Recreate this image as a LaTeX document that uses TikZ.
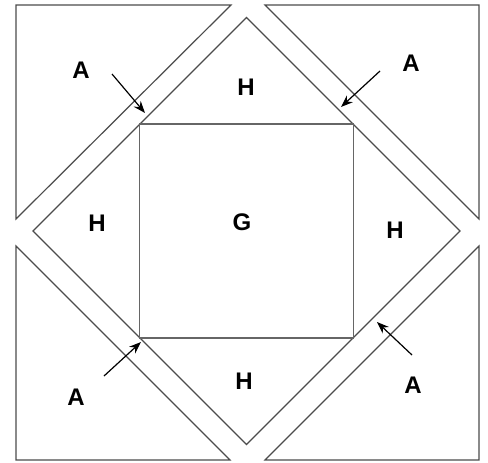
\documentclass[tikz,border=0pt]{standalone}
\usepackage{fontspec}
\setsansfont{Liberation Sans}
\usetikzlibrary{arrows.meta}
\tikzset{piece/.style={draw=black!70,line width=1.2pt,line join=miter},
  lbl/.style={font=\sffamily\bfseries\fontsize{24}{24}\selectfont,inner sep=0pt},
  pointer/.style={-{Stealth[length=12pt,width=9pt]},line width=1.2pt}}

\begin{document}
\begin{tikzpicture}[x=1pt,y=-1pt]
\fill[white](0,0)rectangle(488,463);\useasboundingbox(0,0)rectangle(488,463);
% corner triangles A
\draw[piece](16,5)--(231,5)--(16,219)--cycle;
\draw[piece](265,5)--(479,5)--(479,219)--cycle;
\draw[piece](16,246)--(16,460)--(230,460)--cycle;
\draw[piece](479,246)--(479,460)--(265,460)--cycle;
% H diamond and G square
\draw[piece](246.5,17.5)--(460,231)--(246.5,444.5)--(33,231)--cycle;
\draw[piece,draw=black!60](139.5,124)rectangle(353.5,338);
% labels
\node[lbl](aTL) at (81,70){A};\node[lbl](aTR) at (411,63){A};
\node[lbl](aBL) at (76,397){A};\node[lbl](aBR) at (413,385){A};
\node[lbl](hT) at (246,87){H};\node[lbl](hL) at (97,223){H};
\node[lbl](hR) at (395,230){H};\node[lbl](hB) at (244,381){H};
\node[lbl](g) at (242,222){G};
% pointers
\coordinate(sTL) at (112,74);\coordinate(eTL) at (145,113);
\coordinate(sTR) at (380,71);\coordinate(eTR) at (341,107);
\coordinate(sBL) at (104,376);\coordinate(eBL) at (141,342);
\coordinate(sBR) at (412,355);\coordinate(eBR) at (377,322);
\draw[pointer](sTL)--(eTL);\draw[pointer](sTR)--(eTR);
\draw[pointer](sBL)--(eBL);\draw[pointer](sBR)--(eBR);
\end{tikzpicture}
\end{document}
